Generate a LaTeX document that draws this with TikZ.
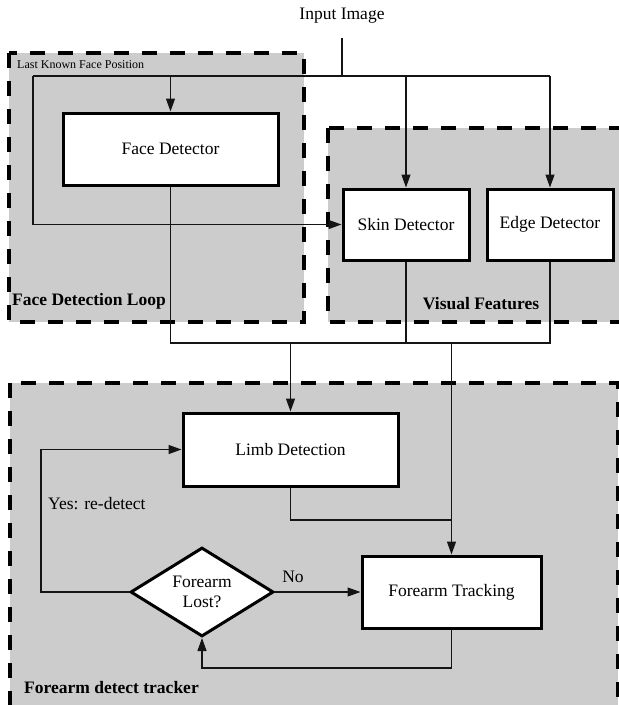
\documentclass[tikz,border=0pt]{standalone}
\usepackage{fontspec}
\setmainfont{Liberation Serif}
\usetikzlibrary{arrows.meta,shapes.geometric}
\definecolor{grpfill}{RGB}{204,204,204}
\definecolor{linec}{RGB}{20,20,20}
\begin{document}
\begin{tikzpicture}[x=1pt,y=-1pt,
  every node/.style={font=\fontsize{17.5}{20}\selectfont},
  box/.style={draw, fill=white, line width=3pt, inner sep=0pt, align=center},
  grp/.style={fill=grpfill, draw=black, line width=3.5pt, dash pattern=on 15pt off 13pt},
  conn/.style={draw=linec, line width=1.2pt},
  arr/.style={conn, -{Triangle[length=13pt,width=9pt]}},
  grplabel/.style={font=\fontsize{17.5}{20}\selectfont\bfseries, inner sep=0pt, anchor=west},
]
\useasboundingbox (0,0) rectangle (619,705);
\clip (0,0) rectangle (619,705);
\fill[white] (0,0) rectangle (619,705);
% groups
\draw[grp] (9,53) rectangle (304,322);
\draw[grp] (328,128) rectangle (660,322);
\draw[grp] (10,383) rectangle (618,740);
% labels of groups
\node[grplabel] (lblface) at (12,301) {Face Detection Loop};
\node[grplabel, anchor=center] (lblvis) at (481,304) {Visual Features};
\node[grplabel] (lblfore) at (24,688) {Forearm detect tracker};
\node[anchor=west, inner sep=0pt, font=\fontsize{12}{14}\selectfont] (lkfp) at (17,65) {Last Known Face Position};
% nodes
\node (input) at (342,16) {Input Image};
\node[box, minimum width=215pt, minimum height=72pt] (face) at (170.5,149) {Face Detector};
\node[box, minimum width=126pt, minimum height=71pt] (skin) at (406,224.5) {Skin Detector};
\node[box, minimum width=126pt, minimum height=71pt] (edge) at (550,224.5) {Edge Detector};
\node[box, minimum width=215pt, minimum height=73pt] (limb) at (290.5,449.5) {Limb Detection};
\node[box, minimum width=179pt, minimum height=72pt] (track) at (451.5,592) {Forearm Tracking};
\node[draw, fill=white, line width=3pt, diamond, shape aspect=1.6, inner sep=0pt,
      minimum width=143pt, minimum height=89pt, align=center] (lost) at (202,592) {Forearm\\Lost?};
% coordinates
\coordinate (split) at (342,76);
\coordinate (tl) at (33,76);
\coordinate (tr) at (550,76);
\coordinate (merge) at (0,343);
\coordinate (lj) at (0,520);
\coordinate (yl) at (41,0);
\coordinate (bl) at (0,668);
% connectors
\draw[conn] (input.south) ++(0,11) -- (split);
\draw[conn] (tl) -- (tr);
\draw[arr] (face.north |- tl) -- (face.north);
\draw[arr] (skin.north |- tl) -- (skin.north);
\draw[arr] (tr) -- (edge.north);
\draw[arr] (tl) |- (skin.west);
\draw[conn] (face.south) -- (face.south |- merge) -- (edge.south |- merge) -- (edge.south);
\draw[conn] (skin.south) -- (skin.south |- merge);
\draw[arr] (limb.north |- merge) -- (limb.north);
\draw[arr] (track.north |- merge) -- (track.north);
\draw[conn] (limb.south) -- (limb.south |- lj) -- (track.north |- lj);
\draw[arr] (lost.east) -- node[pos=0.21, yshift=15pt] (no) {No} (track.west);
\draw[arr] (lost.west) -- (lost.west -| yl) |- (limb.west);
\node[anchor=west, inner sep=0pt] (yes) at (48,504) {Yes: re-detect};
\draw[arr] (track.south) -- (track.south |- bl) -- (lost.south |- bl) -- (lost.south);
\end{tikzpicture}
\end{document}
